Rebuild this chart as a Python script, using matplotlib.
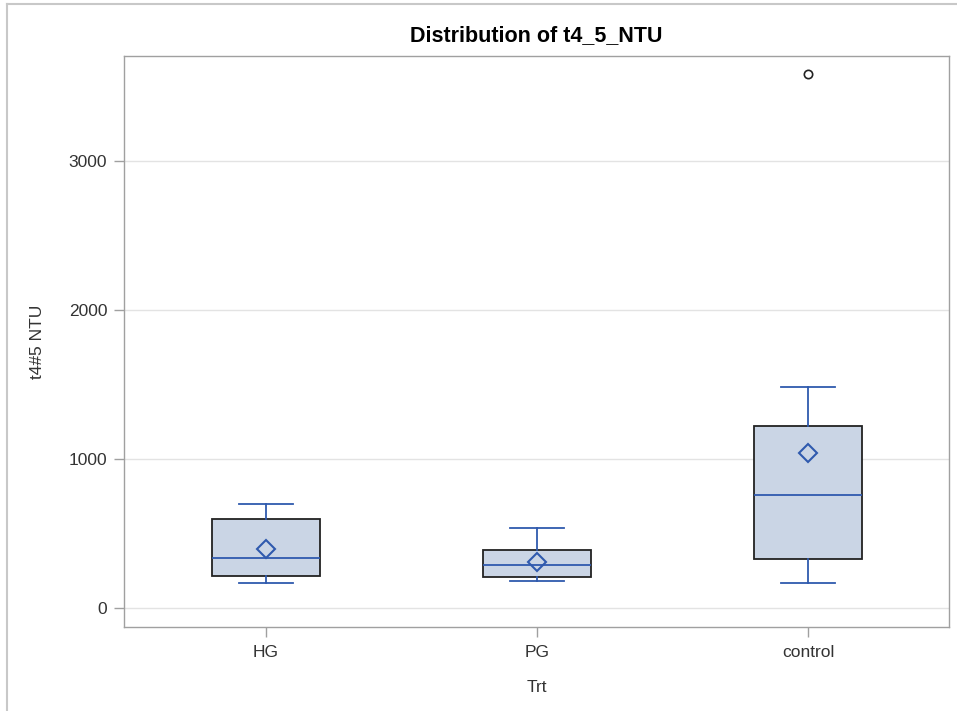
import matplotlib
matplotlib.use('Agg')
import matplotlib.pyplot as plt
from matplotlib.lines import Line2D

plt.rcParams['font.family'] = ['Liberation Sans', 'DejaVu Sans']

# 数据
groups = ['HG', 'PG', 'control']
whis_low = [168, 179, 170]
q1 = [215, 206, 327]
median = [338, 287, 756]
q3 = [597, 387, 1221]
whis_high = [696, 535, 1483]
mean = [396, 311, 1042]
fliers = [[], [], [3584]]

yticks = [0, 1000, 2000, 3000]

box_fill = '#CAD5E5'
line_blue = '#2F5AAE'
frame_gray = '#A0A0A0'

fig = plt.figure(figsize=(9.57, 7.11), dpi=100)
ax = fig.add_axes([124 / 957, 1 - 627 / 711, (949 - 124) / 957, (627 - 56) / 711])

stats = []
for i in range(len(groups)):
    stats.append({'label': groups[i], 'whislo': whis_low[i], 'q1': q1[i],
                  'med': median[i], 'q3': q3[i], 'whishi': whis_high[i],
                  'mean': mean[i], 'fliers': fliers[i]})

ax.bxp(stats, positions=range(len(groups)), widths=0.4, patch_artist=True,
       showmeans=True,
       boxprops=dict(facecolor=box_fill, edgecolor='#222222', linewidth=1.3),
       medianprops=dict(color=line_blue, linewidth=1.3),
       whiskerprops=dict(color=line_blue, linewidth=1.3),
       capprops=dict(color=line_blue, linewidth=1.3),
       capwidths=0.2,
       meanprops=dict(marker='D', markersize=9, markerfacecolor='none',
                      markeredgecolor=line_blue, markeredgewidth=1.5),
       flierprops=dict(marker='o', markersize=6, markerfacecolor='none',
                       markeredgecolor='#222222', markeredgewidth=1.2),
       zorder=3)

ax.set_xlim(-0.524, 2.52)
ax.set_ylim(-127, 3705)
ax.set_yticks(yticks)
ax.set_yticklabels([str(v) for v in yticks])
ax.grid(axis='y', color='#E3E3E3', linewidth=1.0, zorder=0)
ax.set_axisbelow(True)

for s in ax.spines.values():
    s.set_color(frame_gray)
    s.set_linewidth(1.0)
ax.tick_params(axis='both', direction='out', length=7, width=1.0, color=frame_gray,
               labelsize=12.5, labelcolor='#333333')
ax.tick_params(axis='x', pad=6)
ax.tick_params(axis='y', pad=5)

ax.set_xlabel('Trt', fontsize=12.5, color='#333333', labelpad=14)
ax.set_ylabel('t4#5 NTU', fontsize=12.5, color='#333333', labelpad=17)
ax.set_title('Distribution of t4_5_NTU', fontsize=15.5, fontweight='bold', pad=11)

# 外框线
fig.add_artist(Line2D([7 / 957, 7 / 957], [0, 1 - 4 / 711], transform=fig.transFigure,
                      color='#C8C8C8', linewidth=1.5))
fig.add_artist(Line2D([7 / 957, 1], [1 - 4 / 711, 1 - 4 / 711], transform=fig.transFigure,
                      color='#C8C8C8', linewidth=1.5))

fig.savefig('out.png', dpi=100)
